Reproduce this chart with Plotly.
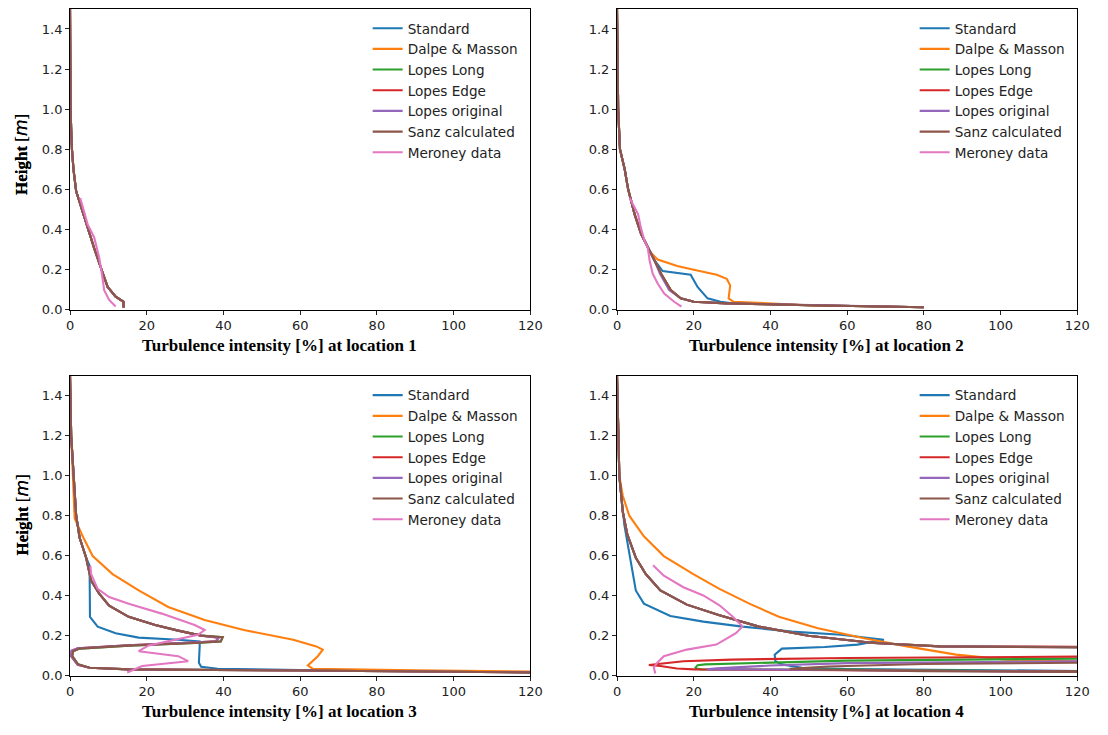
import plotly.graph_objects as go

SERIES = ["Standard", "Dalpe & Masson", "Lopes Long", "Lopes Edge", "Lopes original", "Sanz calculated", "Meroney data"]
COLORS = ["#1f77b4", "#ff7f0e", "#2ca02c", "#d62728", "#9467bd", "#8c564b", "#e377c2"]
X_TICKS = [0, 20, 40, 60, 80, 100, 120]
Y_TICKS = [0.0, 0.2, 0.4, 0.6, 0.8, 1.0, 1.2, 1.4]

# ---------------- Location 1 ----------------
L1_MODEL_TI = [0, 0.05, 0.15, 0.3, 0.5, 0.9, 1.6, 3.1, 4.7, 6.4, 8.2, 9.1, 9.8, 11.9, 13.9, 14.0]
L1_MODEL_H = [1.5, 1.2, 1.0, 0.9, 0.8, 0.7, 0.59, 0.5, 0.4, 0.3, 0.2, 0.15, 0.113, 0.064, 0.04, 0.01]
L1_MERONEY_TI = [2.65, 4.6, 6.3, 7.6, 8.3, 8.9, 10.2, 11.9]
L1_MERONEY_H = [0.557, 0.425, 0.36, 0.26, 0.179, 0.097, 0.048, 0.015]

# ---------------- Location 2 ----------------
L2_SANZ_TI = [0, 0.1, 0.3, 0.77, 2.0, 2.9, 4.6, 6.3, 8.0, 9.8, 11.5, 14.0, 16.6, 20, 28.5, 50, 80]
L2_SANZ_H = [1.5, 1.2, 1.0, 0.8, 0.7, 0.6, 0.475, 0.377, 0.31, 0.245, 0.179, 0.097, 0.056, 0.039, 0.031, 0.022, 0.012]
L2_STANDARD_TI = [0, 0.1, 0.3, 0.77, 2.0, 2.9, 4.6, 6.3, 8.0, 9.8, 11.9, 19.2, 21.0, 23.6, 27.0, 30, 50, 80]
L2_STANDARD_H = [1.5, 1.2, 1.0, 0.8, 0.7, 0.6, 0.475, 0.377, 0.31, 0.245, 0.192, 0.174, 0.113, 0.056, 0.039, 0.032, 0.022, 0.012]
L2_DALPE_TI = [0, 0.1, 0.3, 0.77, 2.0, 2.9, 4.6, 6.3, 8.5, 10.6, 15.7, 20.0, 26.0, 28.6, 29.5, 29.1, 30.4, 50, 80]
L2_DALPE_H = [1.5, 1.2, 1.0, 0.8, 0.7, 0.6, 0.475, 0.377, 0.29, 0.25, 0.217, 0.199, 0.174, 0.154, 0.121, 0.056, 0.039, 0.022, 0.012]
L2_ORIGINAL_TI = [0, 0.1, 0.3, 0.77, 2.0, 2.9, 4.6, 6.3, 8.0, 9.8, 11.2, 13.6, 16.6, 20, 28.5, 50, 80]
L2_ORIGINAL_H = [1.5, 1.2, 1.0, 0.8, 0.7, 0.6, 0.475, 0.377, 0.31, 0.245, 0.179, 0.097, 0.056, 0.039, 0.031, 0.022, 0.012]
L2_MERONEY_TI = [3.3, 5.5, 6.2, 7.2, 8.0, 8.5, 9.3, 10.6, 12.3, 14.9, 16.8]
L2_MERONEY_H = [0.557, 0.475, 0.41, 0.34, 0.31, 0.245, 0.179, 0.13, 0.08, 0.039, 0.015]

# ---------------- Location 3 ----------------
L3_SANZ_TI = [0, 0.3, 1.6, 2.5, 4.2, 5.5, 7.6, 10.2, 15.3, 22.2, 28.2, 34.2, 39.8, 39.3, 32.5, 15.3, 2.5, 0.8, 0.6, 2.1, 5.1, 15.3, 60, 120]
L3_SANZ_H = [1.5, 1.2, 0.8, 0.69, 0.59, 0.475, 0.41, 0.35, 0.294, 0.253, 0.225, 0.2, 0.192, 0.171, 0.163, 0.15, 0.135, 0.122, 0.097, 0.056, 0.039, 0.031, 0.025, 0.016]
L3_EDGE_TI = [0, 0.3, 1.6, 2.5, 4.2, 5.5, 7.6, 10.2, 15.3, 22.2, 28.2, 34.2, 38.8, 38.0, 32.0, 15.0, 2.0, 0.4, 0.3, 2.0, 5.1, 15.3, 60, 120]
L3_EDGE_H = [1.5, 1.2, 0.8, 0.69, 0.59, 0.475, 0.41, 0.35, 0.294, 0.253, 0.225, 0.2, 0.19, 0.172, 0.165, 0.152, 0.137, 0.124, 0.097, 0.054, 0.039, 0.031, 0.025, 0.016]
L3_STANDARD_TI = [0, 0.3, 1.6, 2.5, 4.2, 5.1, 5.2, 7.2, 11.9, 17.9, 28.2, 33.8, 33.8, 33.6, 34.2, 38.5, 60, 120]
L3_STANDARD_H = [1.5, 1.2, 0.8, 0.69, 0.59, 0.55, 0.294, 0.245, 0.212, 0.19, 0.179, 0.171, 0.146, 0.064, 0.044, 0.034, 0.028, 0.017]
L3_DALPE_TI = [0, 0.3, 1.2, 3.3, 5.9, 11.1, 17.9, 25.6, 35.1, 45.3, 58.2, 64.2, 65.9, 64.6, 62.0, 63.3, 90, 120]
L3_DALPE_H = [1.5, 1.2, 0.787, 0.697, 0.598, 0.508, 0.426, 0.343, 0.278, 0.228, 0.179, 0.146, 0.13, 0.097, 0.051, 0.034, 0.026, 0.02]
L3_MERONEY_TI = [5.3, 5.5, 7.2, 10.2, 15.3, 23.9, 32.5, 35.1, 33.4, 20.5, 17.9, 28.2, 30.8, 18.8, 14.9]
L3_MERONEY_H = [0.549, 0.508, 0.434, 0.393, 0.36, 0.31, 0.253, 0.228, 0.204, 0.151, 0.122, 0.097, 0.072, 0.048, 0.015]

# ---------------- Location 4 ----------------
L4_UPPER_TI = [0, 0.3, 0.6, 1.5, 2.7, 4.9, 7.5, 11.3, 18.2, 26.7, 37.0, 49.9, 67.0, 84.2]
L4_UPPER_H = [1.5, 1.3, 1.0, 0.82, 0.705, 0.59, 0.508, 0.426, 0.355, 0.302, 0.245, 0.199, 0.163, 0.146]
L4_SANZ_TI = L4_UPPER_TI + [120, 200, 200, 120, 80, 55, 45, 50, 80, 120, 200]
L4_SANZ_H = L4_UPPER_H + [0.135, 0.13, 0.065, 0.064, 0.058, 0.045, 0.034, 0.03, 0.022, 0.015, 0.01]
L4_EDGE_TI = L4_UPPER_TI + [120, 200, 200, 120, 60, 30, 17.3, 11.3, 8.3, 11.3, 15.6, 20, 60, 120, 200]
L4_EDGE_H = L4_UPPER_H + [0.143, 0.14, 0.098, 0.095, 0.088, 0.08, 0.072, 0.061, 0.053, 0.048, 0.035, 0.031, 0.028, 0.02, 0.01]
L4_LONG_TI = L4_UPPER_TI + [120, 200, 200, 120, 60, 30, 23, 21, 20.3, 22, 60, 120, 200]
L4_LONG_H = L4_UPPER_H + [0.138, 0.135, 0.09, 0.085, 0.075, 0.062, 0.056, 0.052, 0.036, 0.031, 0.03, 0.02, 0.01]
L4_ORIGINAL_TI = L4_UPPER_TI + [120, 200, 200, 120, 60, 40, 26, 23.3, 40, 120, 200]
L4_ORIGINAL_H = L4_UPPER_H + [0.137, 0.133, 0.075, 0.072, 0.062, 0.05, 0.036, 0.031, 0.03, 0.018, 0.01]
L4_STANDARD_TI = [0, 0.3, 0.6, 1.9, 3.6, 4.9, 7.0, 13.9, 22.5, 32.7, 45.6, 58.4, 69.6, 62.7, 54.2, 43.0, 41.1, 41.3, 43.0, 48.2, 60, 120, 200]
L4_STANDARD_H = [1.5, 1.3, 1.0, 0.755, 0.557, 0.426, 0.36, 0.298, 0.27, 0.245, 0.22, 0.204, 0.179, 0.155, 0.143, 0.135, 0.105, 0.072, 0.056, 0.039, 0.033, 0.02, 0.01]
L4_DALPE_TI = [0, 0.3, 0.6, 1.5, 3.2, 7.0, 12.2, 19.9, 26.7, 34.5, 42.2, 52.4, 64.4, 75.6, 88.4, 101.3, 120]
L4_DALPE_H = [1.5, 1.3, 1.0, 0.9, 0.8, 0.697, 0.598, 0.508, 0.434, 0.36, 0.294, 0.237, 0.187, 0.146, 0.105, 0.08, 0.072]
L4_MERONEY_TI = [9.4, 12.2, 17.3, 22.5, 26.7, 30.2, 32.7, 31.0, 25.9, 18.2, 12.2, 10.5, 9.6, 10.0]
L4_MERONEY_H = [0.552, 0.5, 0.442, 0.401, 0.352, 0.294, 0.245, 0.212, 0.155, 0.13, 0.097, 0.064, 0.039, 0.01]

LOCATIONS = [
    [(L1_MODEL_TI, L1_MODEL_H), (L1_MODEL_TI, L1_MODEL_H), (L1_MODEL_TI, L1_MODEL_H), (L1_MODEL_TI, L1_MODEL_H),
     (L1_MODEL_TI, L1_MODEL_H), (L1_MODEL_TI, L1_MODEL_H), (L1_MERONEY_TI, L1_MERONEY_H)],
    [(L2_STANDARD_TI, L2_STANDARD_H), (L2_DALPE_TI, L2_DALPE_H), (L2_SANZ_TI, L2_SANZ_H), (L2_SANZ_TI, L2_SANZ_H),
     (L2_ORIGINAL_TI, L2_ORIGINAL_H), (L2_SANZ_TI, L2_SANZ_H), (L2_MERONEY_TI, L2_MERONEY_H)],
    [(L3_STANDARD_TI, L3_STANDARD_H), (L3_DALPE_TI, L3_DALPE_H), (L3_SANZ_TI, L3_SANZ_H), (L3_EDGE_TI, L3_EDGE_H),
     (L3_EDGE_TI, L3_EDGE_H), (L3_SANZ_TI, L3_SANZ_H), (L3_MERONEY_TI, L3_MERONEY_H)],
    [(L4_STANDARD_TI, L4_STANDARD_H), (L4_DALPE_TI, L4_DALPE_H), (L4_LONG_TI, L4_LONG_H), (L4_EDGE_TI, L4_EDGE_H),
     (L4_ORIGINAL_TI, L4_ORIGINAL_H), (L4_SANZ_TI, L4_SANZ_H), (L4_MERONEY_TI, L4_MERONEY_H)],
]

W, H = 1108, 735
# pixel boxes of the four axes: (left, right, top, bottom)
BOXES = [(67, 534, 9, 313), (622, 1089, 9, 313), (67, 534, 380, 683), (622, 1089, 380, 683)]

fig = go.Figure()
TICKFONT = dict(family="DejaVu Sans", size=13, color="#222")
TITLEFONT = dict(family="Liberation Serif", size=17, color="#000")
annotations = []

for i, series in enumerate(LOCATIONS):
    n = i + 1
    xa = "x" if n == 1 else f"x{n}"
    ya = "y" if n == 1 else f"y{n}"
    leg = "legend" if n == 1 else f"legend{n}"
    for name, color, (ti, h) in zip(SERIES, COLORS, series):
        fig.add_trace(go.Scatter(x=ti, y=h, mode="lines", name=name, xaxis=xa, yaxis=ya,
                                 legend=leg, line=dict(color=color, width=2.1), cliponaxis=True))
    l, r, t, b = BOXES[i]
    xkey = "xaxis" if n == 1 else f"xaxis{n}"
    ykey = "yaxis" if n == 1 else f"yaxis{n}"
    fig.update_layout({
        xkey: dict(domain=[l / W, r / W], anchor=ya, range=[0, 120], tickvals=X_TICKS,
                   ticks="outside", ticklen=4, tickcolor="#222", showline=True, linecolor="#000",
                   linewidth=1, mirror=True, showgrid=False, zeroline=False, tickfont=TICKFONT),
        ykey: dict(domain=[1 - b / H, 1 - t / H], anchor=xa, range=[0, 1.5], tickvals=Y_TICKS,
                   ticktext=[f"{v:.1f}" for v in Y_TICKS],
                   ticks="outside", ticklen=4, tickcolor="#222", showline=True, linecolor="#000",
                   linewidth=1, mirror=True, showgrid=False, zeroline=False, tickfont=TICKFONT),
        leg: dict(x=(l + 302) / W, y=1 - (t + 4) / H, xanchor="left", yanchor="top",
                  bgcolor="rgba(255,255,255,0)", borderwidth=0, tracegroupgap=0,
                  font=dict(family="DejaVu Sans", size=13.6, color="#222")),
    })
    annotations.append(dict(text=f"<b>Turbulence intensity [%] at location {n}</b>",
                            x=((l + r) / 2 - 21) / W, y=1 - (b + 36) / H, xref="paper", yref="paper",
                            xanchor="center", yanchor="middle", showarrow=False, font=TITLEFONT))
    annotations.append(dict(text="<b>Height</b> [<span style=\"font-family:'DejaVu Sans'\"><i>m</i></span>]",
                            textangle=-90,
                            x=18 / W, y=1 - ((t + b) / 2 - (5 if n <= 2 else 11)) / H,
                            xref="paper", yref="paper", xanchor="center", yanchor="middle",
                            showarrow=False, font=TITLEFONT))

fig.update_layout(width=W, height=H, margin=dict(l=0, r=0, t=0, b=0),
                  plot_bgcolor="white", paper_bgcolor="white", showlegend=True,
                  annotations=annotations)
fig.write_html("out.html")
